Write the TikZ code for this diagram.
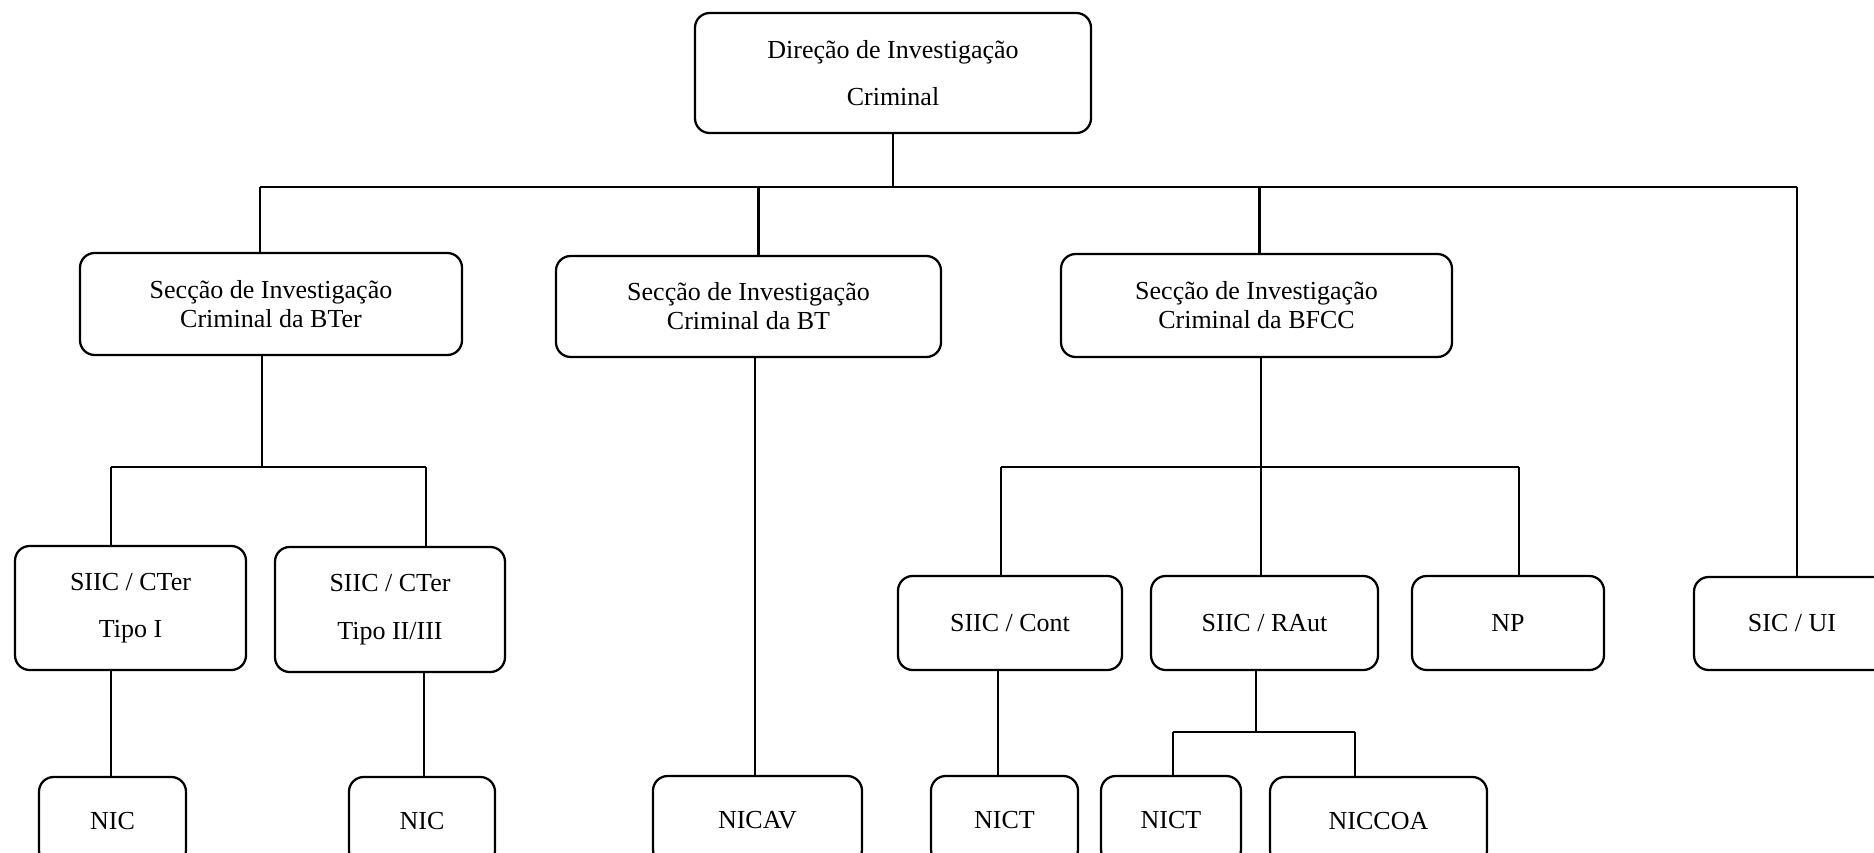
\documentclass[tikz,border=0pt]{standalone}
\usepackage{fontspec}
\setmainfont{Liberation Serif}
\begin{document}
\begin{tikzpicture}[x=0.75pt,y=-0.75pt,
  box/.style={draw, line width=1.7pt, rounded corners=11pt, align=center, inner sep=0pt, fill=white},
  sz/.style 2 args={minimum width=#1*0.75pt, minimum height=#2*0.75pt},
  ftop/.style={font=\fontsize{19.5}{35}\selectfont},
  fsec/.style={font=\fontsize{19.5}{21.75}\selectfont},
  fct/.style={font=\fontsize{19.5}{35.5}\selectfont},
  fone/.style={font=\fontsize{19.5}{22}\selectfont},
  link/.style={line width=1.6pt}]
\useasboundingbox (0,0) rectangle (1874,853);
\clip (0,0) rectangle (1874,853);
% level 0
\node[box,ftop,sz={396}{120}] (top) at (893,73) {Direção de Investigação\\Criminal};
% level 1
\node[box,fsec,sz={382}{102}] (bter) at (271,304) {Secção de Investigação\\Criminal da BTer};
\node[box,fsec,sz={385}{101}] (bt) at (748.5,306.5) {Secção de Investigação\\Criminal da BT};
\node[box,fsec,sz={391}{103}] (bfcc) at (1256.5,305.5) {Secção de Investigação\\Criminal da BFCC};
\node[box,fone,sz={196}{93}] (sicui) at (1792,623.5) {SIC / UI};
% level 2
\node[box,fct,sz={231}{124}] (ct1) at (130.5,608) {SIIC / CTer\\Tipo I};
\node[box,fct,sz={230}{125}] (ct2) at (390,609.5) {SIIC / CTer\\Tipo II/III};
\node[box,fone,sz={224}{94}] (cont) at (1010,623) {SIIC / Cont};
\node[box,fone,sz={227}{94}] (raut) at (1264.5,623) {SIIC / RAut};
\node[box,fone,sz={192}{94}] (np) at (1508,623) {NP};
% level 3
\node[box,fone,sz={147}{88}] (nic1) at (112.5,821) {NIC};
\node[box,fone,sz={146}{88}] (nic2) at (422,821) {NIC};
\node[box,fone,sz={209}{88}] (nicav) at (757.5,820) {NICAV};
\node[box,fone,sz={147}{88}] (nict1) at (1004.5,820) {NICT};
\node[box,fone,sz={140}{88}] (nict2) at (1171,820) {NICT};
\node[box,fone,sz={217}{88}] (niccoa) at (1378.5,821) {NICCOA};
% bus coordinates
\coordinate (busA) at (895,187);
\coordinate (busB) at (262,467);
\coordinate (busC) at (1261,467);
\coordinate (busD) at (1256,732);
% top level connectors
\draw[link] (top.south) -- (top.south |- busA);
\draw[link] ([xshift=-8.25pt]bter.north |- busA) -- ([xshift=3.75pt]sicui.north |- busA);
\draw[link] ([xshift=-8.25pt]bter.north |- busA) -- ([xshift=-8.25pt]bter.north);
\draw[link] ([xshift=7.5pt]bt.north |- busA) -- ([xshift=7.5pt]bt.north);
\draw[link] ([xshift=2.25pt]bfcc.north |- busA) -- ([xshift=2.25pt]bfcc.north);
\draw[link] ([xshift=3.75pt]sicui.north |- busA) -- ([xshift=3.75pt]sicui.north);
% BTer branch
\draw[link] (busB |- bter.south) -- (busB);
\draw[link] ([xshift=-14.6pt]ct1.north |- busB) -- ([xshift=27pt]ct2.north |- busB);
\draw[link] ([xshift=-14.6pt]ct1.north |- busB) -- ([xshift=-14.6pt]ct1.north);
\draw[link] ([xshift=27pt]ct2.north |- busB) -- ([xshift=27pt]ct2.north);
\draw[link] ([xshift=-14.6pt]ct1.south) -- ([xshift=-14.6pt]ct1.south |- nic1.north);
\draw[link] ([xshift=25.5pt]ct2.south) -- ([xshift=25.5pt]ct2.south |- nic2.north);
% BT branch
\draw[link] ([xshift=4.9pt]bt.south) -- ([xshift=4.9pt]bt.south |- nicav.north);
% BFCC branch
\draw[link] (busC |- bfcc.south) -- (busC |- raut.north);
\draw[link] ([xshift=-6.75pt]cont.north |- busC) -- ([xshift=8.25pt]np.north |- busC);
\draw[link] ([xshift=-6.75pt]cont.north |- busC) -- ([xshift=-6.75pt]cont.north);
\draw[link] ([xshift=8.25pt]np.north |- busC) -- ([xshift=8.25pt]np.north);
\draw[link] ([xshift=-9pt]cont.south) -- ([xshift=-9pt]cont.south |- nict1.north);
% RAut branch
\draw[link] (busD |- raut.south) -- (busD);
\draw[link] ([xshift=1.5pt]nict2.north |- busD) -- ([xshift=-17.6pt]niccoa.north |- busD);
\draw[link] ([xshift=1.5pt]nict2.north |- busD) -- ([xshift=1.5pt]nict2.north);
\draw[link] ([xshift=-17.6pt]niccoa.north |- busD) -- ([xshift=-17.6pt]niccoa.north);
\end{tikzpicture}
\end{document}
